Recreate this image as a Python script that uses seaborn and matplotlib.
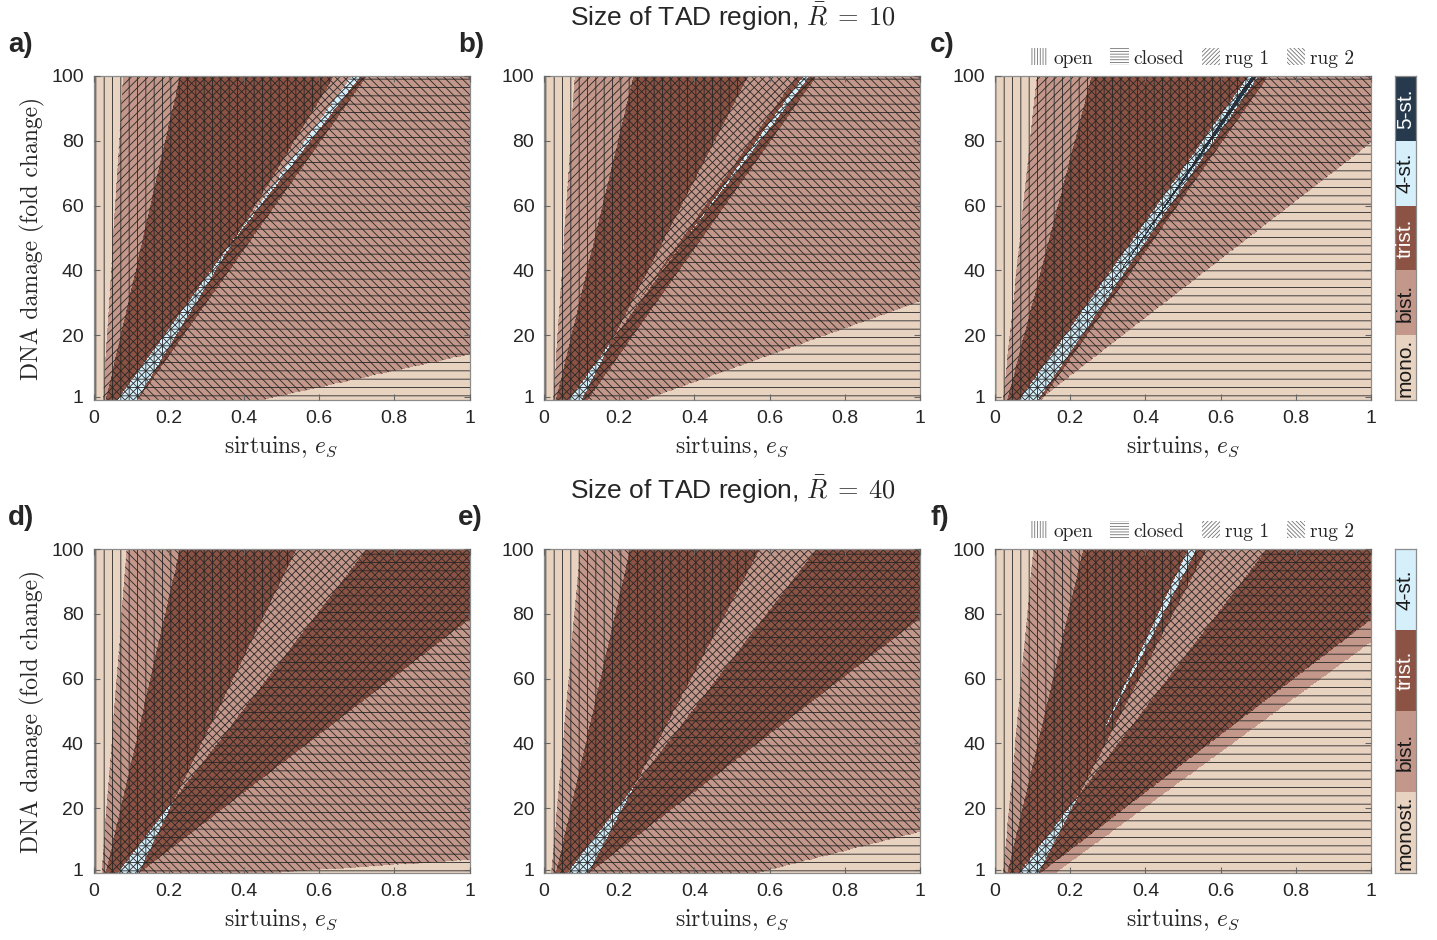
import numpy as np
import matplotlib.pyplot as plt
import seaborn as sns
from matplotlib.colors import ListedColormap
from matplotlib.patches import Patch

# Stability phase diagrams: which chromatin states exist for (e_S, DNA damage)
# every boundary is a straight line given as (e_S at D = 1, e_S at D = 100)

panel_tags = ["a)", "b)", "c)", "d)", "e)", "f)"]
tad_sizes = [10, 40]

open_right = [(0.120, 0.640), (0.104, 0.543), (0.120, 0.700),
              (0.124, 0.540), (0.122, 0.574), (0.120, 0.563)]
closed_left = [(0.070, 0.687), (0.073, 0.690), (0.071, 0.674),
               (0.071, 0.727), (0.069, 0.725), (0.071, 0.723)]
rug1_left = [(0.026, 0.079), (0.025, 0.082), (0.022, 0.111),
             (0.035, 0.230), (0.034, 0.229), (0.035, 0.235)]
rug1_right = [(0.124, 0.727), (0.122, 0.725), (0.130, 0.727),
              (0.133, 1.242), (0.131, 1.240), (0.130, 1.240)]
rug2_left = [(0.035, 0.230), (0.034, 0.238), (0.035, 0.257),
             (0.022, 0.088), (0.020, 0.096), (0.022, 0.102)]
rug2_right = [(0.487, 4.364), (0.291, 2.678), (0.129, 1.229),
              (0.600, 13.80), (0.601, 3.977), (0.132, 1.245)]
# extra unhatched branches, None = not present in that panel
extra_left = [(0.071, 0.687), (0.070, 0.672), (0.107, 0.683), None, None, (0.116, 0.514)]
extra_right = [(0.052, 0.710), (0.057, 0.706), (0.102, 0.696), None, None, (0.100, 0.536)]
band_left = [None, None, None, None, None, (0.130, 1.240)]
band_right = [None, None, None, None, None, (0.173, 1.338)]

hatch_labels = ["open", "closed", "rug 1", "rug 2"]
hatch_styles = ["||", "--", "////", "\\\\\\\\"]
legend_hatches = ["||||||", "------", "/" * 8, "\\" * 8]

count_names_top = ["mono.", "bist.", "trist.", "4-st.", "5-st."]
count_names_bottom = ["monost.", "bist.", "trist.", "4-st."]
count_colors = ["#E8D3C1", "#C4978B", "#8C5344", "#D5EFFB", "#273A4D"]
count_text = ["0.1", "0.1", "white", "0.1", "white"]

sns.set_theme(style="ticks")
plt.rcParams["font.family"] = ["Liberation Sans", "DejaVu Sans"]
plt.rcParams["mathtext.fontset"] = "cm"
plt.rcParams["hatch.linewidth"] = 0.6

W, H = 1437, 940
fig = plt.figure(figsize=(W / 100, H / 100), dpi=100)

d_grid = np.linspace(0, 100, 401)
es_grid = np.linspace(0, 1, 801)
cmap = ListedColormap(count_colors)
serif = {"family": "cmr10", "size": 17}

lefts = [93.5, 544, 995]
bottoms = [400, 873]


def edge(b, d, default):
    if b is None:
        return np.full_like(d, default)
    return b[0] + (b[1] - b[0]) * (d - 1) / 99


for i, tag in enumerate(panel_tags):
    row, col = divmod(i, 3)
    ax = fig.add_axes([lefts[col] / W, 1 - bottoms[row] / H, 376 / W, 324 / H])

    states = [(None, open_right[i], hatch_styles[0]),
              (closed_left[i], None, hatch_styles[1]),
              (rug1_left[i], rug1_right[i], hatch_styles[2]),
              (rug2_left[i], rug2_right[i], hatch_styles[3])]
    if extra_left[i] is not None:
        states.append((extra_left[i], extra_right[i], None))
    if band_left[i] is not None:
        states.append((band_left[i], band_right[i], None))

    count = np.zeros((len(d_grid), len(es_grid)))
    for lo_b, hi_b, h in states:
        lo = edge(lo_b, d_grid, -0.1)
        hi = edge(hi_b, d_grid, 1.1)
        count += (es_grid[None, :] >= lo[:, None]) & (es_grid[None, :] < hi[:, None])
    ax.pcolormesh(es_grid, d_grid, np.clip(count, 1, 5), cmap=cmap,
                  vmin=0.5, vmax=5.5, shading="nearest")

    for lo_b, hi_b, h in states:
        if h is None:
            continue
        lo = edge(lo_b, d_grid, -0.1)
        hi = edge(hi_b, d_grid, 1.1)
        ax.fill_betweenx(d_grid, lo, hi, where=hi > lo, interpolate=True,
                         facecolor="none", edgecolor="#262626", linewidth=0, hatch=h)

    ax.set_xlim(0, 1)
    ax.set_ylim(0, 100)
    ax.set_axisbelow(False)
    ax.set_xticks([0, 0.2, 0.4, 0.6, 0.8, 1])
    ax.set_xticklabels(["0", "0.2", "0.4", "0.6", "0.8", "1"])
    ax.set_yticks([1, 20, 40, 60, 80, 100])
    ax.tick_params(direction="in", top=True, right=True, length=4, width=0.8,
                   color="0.4", labelsize=14, pad=7)
    for s in ax.spines.values():
        s.set_color("0.55")
        s.set_linewidth(0.9)

    ax.text(0.5, -0.145, r"sirtuins, $e_S$", transform=ax.transAxes,
            ha="center", va="center", fontdict=serif)
    if col == 0:
        fig.text(32 / W, 1 - (bottoms[row] - 162) / H, "DNA damage (fold change)",
                 rotation=90, ha="center", va="center", fontdict=serif)

    tag_x = [8, 458, 930][col]
    fig.text(tag_x / W, 1 - (bottoms[row] - 355) / H, tag,
             fontsize=20, fontweight="bold", va="center")

for row, size in enumerate(tad_sizes):
    fig.text(733 / W, 1 - (bottoms[row] - 383) / H,
             r"Size of TAD region, $\bar{R}\;=\;%d$" % size,
             ha="center", va="center", fontsize=19)

    handles = [Patch(facecolor="white", edgecolor="0.45", linewidth=0, hatch=h)
               for h in legend_hatches]
    fig.legend(handles, hatch_labels, loc="center", ncol=4, frameon=False,
               bbox_to_anchor=(1192 / W, 1 - (bottoms[row] - 342) / H),
               prop={"family": "cmr10", "size": 14}, handlelength=0.95,
               handleheight=0.95, handletextpad=0.25, columnspacing=0.9,
               borderaxespad=0)

    names = count_names_top if row == 0 else count_names_bottom
    n = len(names)
    cax = fig.add_axes([1394.5 / W, 1 - bottoms[row] / H, 21.5 / W, 324 / H])
    sns.heatmap(np.arange(n)[::-1].reshape(-1, 1), ax=cax,
                cmap=ListedColormap(count_colors[:n]), vmin=-0.5, vmax=n - 0.5,
                cbar=False, annot=np.array(names[::-1]).reshape(-1, 1), fmt="",
                annot_kws={"rotation": 90, "fontsize": 15},
                xticklabels=False, yticklabels=False)
    for t, c in zip(cax.texts, count_text[:n][::-1]):
        t.set_color(c)
    for s in cax.spines.values():
        s.set_visible(True)
        s.set_color("0.55")
        s.set_linewidth(0.9)

fig.savefig("out.png", dpi=100)
